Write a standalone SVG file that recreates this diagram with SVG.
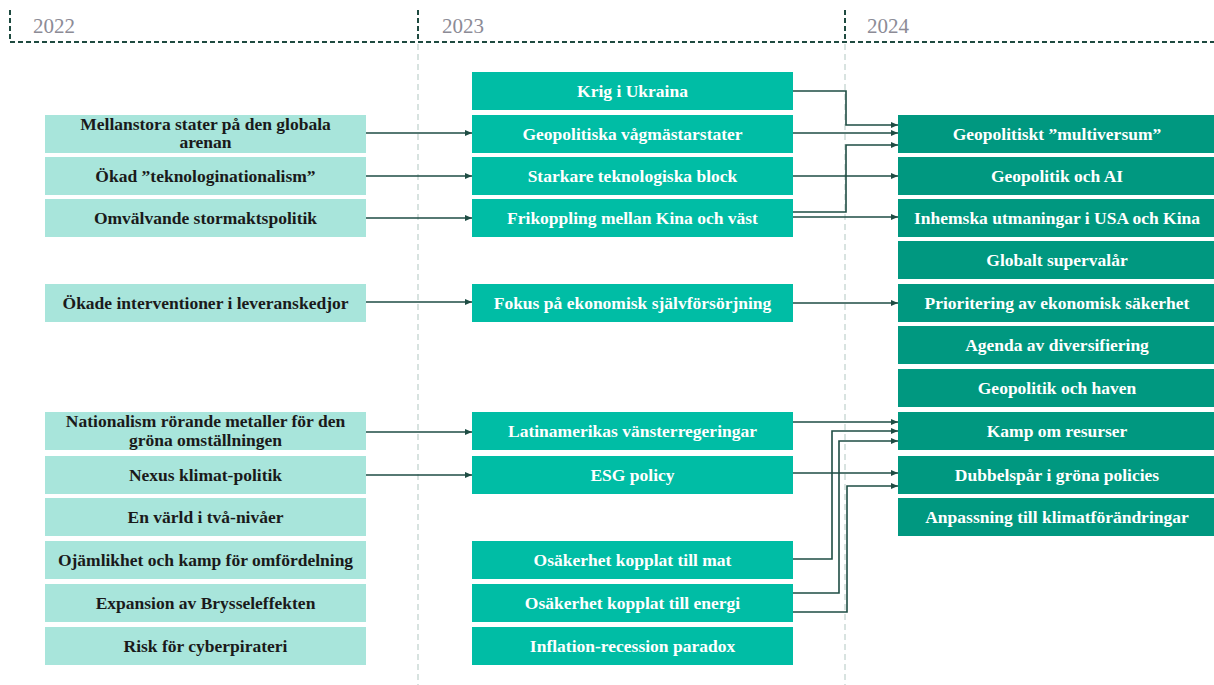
<svg xmlns="http://www.w3.org/2000/svg" width="1214" height="685" viewBox="0 0 1214 685">
  <style>
    .yr { font-family: "Liberation Serif", serif; font-size: 21px; fill: #8C8B96; }
    .axis { stroke: #1E4A40; stroke-width: 2; stroke-dasharray: 5 3; fill: none; }
    .guide { stroke: #CBDAD6; stroke-width: 1.5; stroke-dasharray: 6 4; fill: none; }
    .c22 rect { fill: #A8E5DB; }
    .c23 rect { fill: #00BDA5; }
    .c24 rect { fill: #009880; }
    text.lbl { font-family: "Liberation Serif", serif; font-weight: bold; font-size: 17.5px; text-anchor: middle; }
    .c22 text { fill: #1A1A1A; }
    .c23 text, .c24 text { fill: #FFFFFF; }
    .links path { stroke: #1E4D44; stroke-width: 1.6; fill: none; marker-end: url(#arrow); }
  </style>
  <defs>
    <marker id="arrow" markerUnits="userSpaceOnUse" markerWidth="8" markerHeight="7" refX="7" refY="3" orient="auto">
      <path d="M0,0 L7,3 L0,6 z" fill="#1E4D44"/>
    </marker>
  </defs>

  <rect width="1214" height="685" fill="#FFFFFF"/>

  <!-- timeline header -->
  <g id="timeline">
    <line class="guide" x1="418" y1="44" x2="418" y2="685"/>
    <line class="guide" x1="845" y1="44" x2="845" y2="685"/>
    <path class="axis" d="M10,10 V42 H1214 M418,10 V42 M845,10 V42"/>
    <text class="yr" x="33" y="33">2022</text>
    <text class="yr" x="442" y="33">2023</text>
    <text class="yr" x="867" y="33">2024</text>
  </g>

  <!-- 2022 column -->
  <g class="c22">
    <g id="n22-mellanstora"><rect x="45" y="115" width="321" height="38"/><text class="lbl" x="205.5" y="129.5">Mellanstora stater på den globala</text><text class="lbl" x="205.5" y="148">arenan</text></g>
    <g id="n22-tekno"><rect x="45" y="157" width="321" height="38"/><text class="lbl" x="205.5" y="182">Ökad ”teknologinationalism”</text></g>
    <g id="n22-stormakt"><rect x="45" y="199" width="321" height="38"/><text class="lbl" x="205.5" y="224">Omvälvande stormaktspolitik</text></g>
    <g id="n22-leverans"><rect x="45" y="284" width="321" height="38"/><text class="lbl" x="205.5" y="309">Ökade interventioner i leveranskedjor</text></g>
    <g id="n22-metaller"><rect x="45" y="412" width="321" height="38"/><text class="lbl" x="205.5" y="426.5">Nationalism rörande metaller för den</text><text class="lbl" x="205.5" y="445.5">gröna omställningen</text></g>
    <g id="n22-nexus"><rect x="45" y="456" width="321" height="38"/><text class="lbl" x="205.5" y="481">Nexus klimat-politik</text></g>
    <g id="n22-tvaniva"><rect x="45" y="498" width="321" height="38"/><text class="lbl" x="205.5" y="523">En värld i två-nivåer</text></g>
    <g id="n22-ojamlikhet"><rect x="45" y="541" width="321" height="38"/><text class="lbl" x="205.5" y="566">Ojämlikhet och kamp för omfördelning</text></g>
    <g id="n22-bryssel"><rect x="45" y="584" width="321" height="38"/><text class="lbl" x="205.5" y="609">Expansion av Brysseleffekten</text></g>
    <g id="n22-cyber"><rect x="45" y="627" width="321" height="38"/><text class="lbl" x="205.5" y="652">Risk för cyberpirateri</text></g>
  </g>

  <!-- 2023 column -->
  <g class="c23">
    <g id="n23-ukraina"><rect x="472" y="72" width="321" height="38"/><text class="lbl" x="632.5" y="97">Krig i Ukraina</text></g>
    <g id="n23-vagmastare"><rect x="472" y="115" width="321" height="38"/><text class="lbl" x="632.5" y="140">Geopolitiska vågmästarstater</text></g>
    <g id="n23-block"><rect x="472" y="157" width="321" height="38"/><text class="lbl" x="632.5" y="182">Starkare teknologiska block</text></g>
    <g id="n23-frikoppling"><rect x="472" y="199" width="321" height="38"/><text class="lbl" x="632.5" y="224">Frikoppling mellan Kina och väst</text></g>
    <g id="n23-sjalvforsorjning"><rect x="472" y="284" width="321" height="38"/><text class="lbl" x="632.5" y="309">Fokus på ekonomisk självförsörjning</text></g>
    <g id="n23-latinamerika"><rect x="472" y="412" width="321" height="38"/><text class="lbl" x="632.5" y="437">Latinamerikas vänsterregeringar</text></g>
    <g id="n23-esg"><rect x="472" y="456" width="321" height="38"/><text class="lbl" x="632.5" y="481">ESG policy</text></g>
    <g id="n23-mat"><rect x="472" y="541" width="321" height="38"/><text class="lbl" x="632.5" y="566">Osäkerhet kopplat till mat</text></g>
    <g id="n23-energi"><rect x="472" y="584" width="321" height="38"/><text class="lbl" x="632.5" y="609">Osäkerhet kopplat till energi</text></g>
    <g id="n23-inflation"><rect x="472" y="627" width="321" height="38"/><text class="lbl" x="632.5" y="652">Inflation-recession paradox</text></g>
  </g>

  <!-- 2024 column -->
  <g class="c24">
    <g id="n24-multiversum"><rect x="898" y="115" width="316" height="38"/><text class="lbl" x="1057" y="140">Geopolitiskt ”multiversum”</text></g>
    <g id="n24-ai"><rect x="898" y="157" width="316" height="38"/><text class="lbl" x="1057" y="182">Geopolitik och AI</text></g>
    <g id="n24-inhemska"><rect x="898" y="199" width="316" height="38"/><text class="lbl" x="1057" y="224">Inhemska utmaningar i USA och Kina</text></g>
    <g id="n24-supervalar"><rect x="898" y="241" width="316" height="38"/><text class="lbl" x="1057" y="266">Globalt supervalår</text></g>
    <g id="n24-sakerhet"><rect x="898" y="284" width="316" height="38"/><text class="lbl" x="1057" y="309">Prioritering av ekonomisk säkerhet</text></g>
    <g id="n24-diversifiering"><rect x="898" y="326" width="316" height="38"/><text class="lbl" x="1057" y="351">Agenda av diversifiering</text></g>
    <g id="n24-haven"><rect x="898" y="369" width="316" height="38"/><text class="lbl" x="1057" y="394">Geopolitik och haven</text></g>
    <g id="n24-resurser"><rect x="898" y="412" width="316" height="38"/><text class="lbl" x="1057" y="437">Kamp om resurser</text></g>
    <g id="n24-dubbelspar"><rect x="898" y="456" width="316" height="38"/><text class="lbl" x="1057" y="481">Dubbelspår i gröna policies</text></g>
    <g id="n24-klimat"><rect x="898" y="498" width="316" height="38"/><text class="lbl" x="1057" y="523">Anpassning till klimatförändringar</text></g>
  </g>

  <!-- connectors -->
  <g class="links" id="connectors">
    <path d="M366,133 H472"/>
    <path d="M366,176 H472"/>
    <path d="M366,218 H472"/>
    <path d="M366,302 H472"/>
    <path d="M366,432 H472"/>
    <path d="M366,475 H472"/>

    <path d="M793,91 H846 V125 H898"/>
    <path d="M793,133 H898"/>
    <path d="M793,212 H846 V145 H898"/>
    <path d="M793,176 H898"/>
    <path d="M793,217 H898"/>
    <path d="M793,303 H898"/>
    <path d="M793,422 H898"/>
    <path d="M793,559 H832 V431 H898"/>
    <path d="M793,593 H839 V441 H898"/>
    <path d="M793,473 H898"/>
    <path d="M793,612 H847 V486 H898"/>
  </g>
</svg>
